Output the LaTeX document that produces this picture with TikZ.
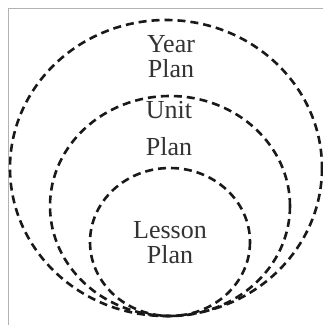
\documentclass[tikz,border=0pt]{standalone}
\usepackage{fontspec}
\setmainfont{Liberation Serif}
\begin{document}
\begin{tikzpicture}[x=1pt,y=-1pt,
  ring/.style={draw=black!90, line width=2.6pt, dash pattern=on 8pt off 5pt},
  lbl/.style={anchor=base, inner sep=0pt, font=\fontsize{26}{30}\selectfont, text=black!80},
  frame/.style={draw=black!30, line width=1pt}]
\useasboundingbox (0,0) rectangle (323,325);
\fill[white] (0,0) rectangle (323,325);
\draw[frame] (9,325) -- (9,8) -- (323,8);
\draw[ring] (166,168) ellipse [x radius=156, y radius=148];
\draw[ring] (170,206) ellipse [x radius=120, y radius=110];
\draw[ring] (170,242) ellipse [x radius=80, y radius=74];
\node[lbl] (year) at (171,52) {Year};
\node[lbl] (yplan) at (171,77) {Plan};
\node[lbl] (unit) at (169,118) {Unit};
\node[lbl] (uplan) at (169,155) {Plan};
\node[lbl] (lesson) at (170,238) {Lesson};
\node[lbl] (lplan) at (170,263) {Plan};
\end{tikzpicture}
\end{document}
